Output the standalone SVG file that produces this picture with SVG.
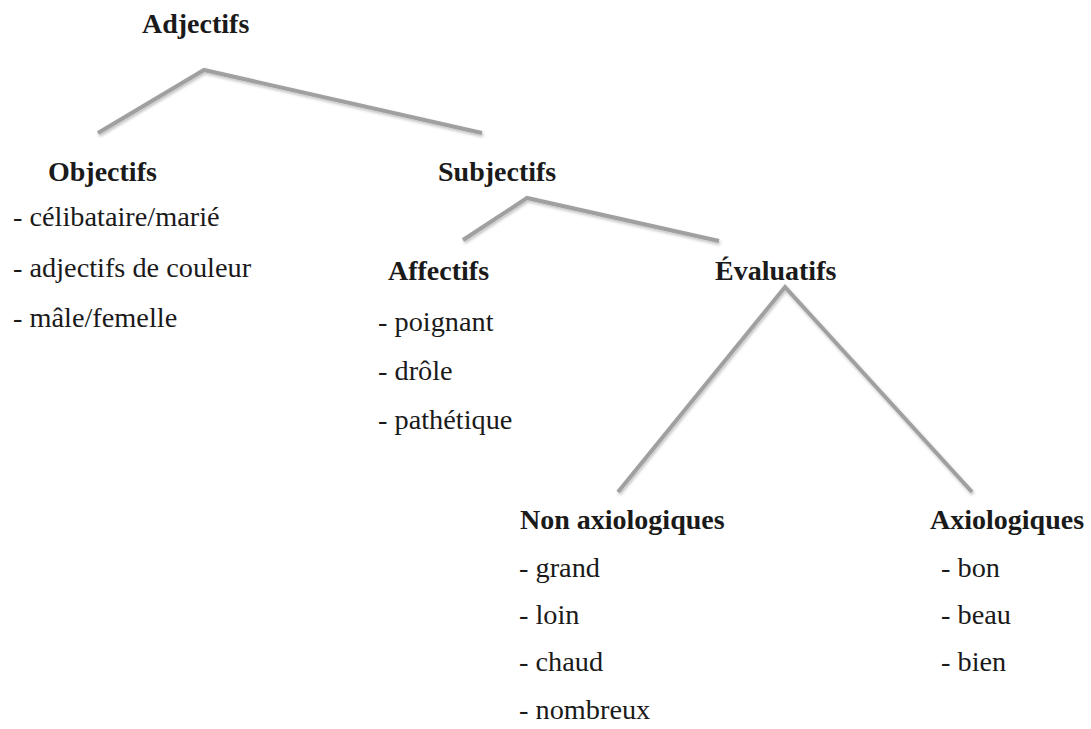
<svg xmlns="http://www.w3.org/2000/svg" width="1091" height="729" viewBox="0 0 1091 729">
<style>
.h{font-family:'Liberation Serif','Times New Roman',Tinos,'DejaVu Serif',serif;font-weight:bold;font-size:28px;fill:#1a1a1a}
.t{font-family:'Liberation Serif','Times New Roman',Tinos,'DejaVu Serif',serif;font-size:28.3px;fill:#1a1a1a}
.c{fill:none;stroke:#a0a0a0;stroke-width:4;stroke-linejoin:miter;filter:url(#sh)}
</style>
<defs>
<filter id="sh" x="-10%" y="-10%" width="120%" height="130%">
<feDropShadow dx="1" dy="2" stdDeviation="1.5" flood-color="#000" flood-opacity="0.25"/>
</filter>
</defs>
<rect width="1091" height="729" fill="#fff"/>
<g id="connectors">
<polyline class="c" points="98,133 204,70 482,133"/>
<polyline class="c" points="463,240 527,198 719,241"/>
<polyline class="c" points="618,492 785,287 972,492"/>
</g>
<g id="adjectifs"><text class="h" x="142" y="33">Adjectifs</text></g>
<g id="objectifs">
<text class="h" x="48" y="181">Objectifs</text>
<text class="t" x="13" y="226">- célibataire/marié</text>
<text class="t" x="13" y="277">- adjectifs de couleur</text>
<text class="t" x="13" y="327">- mâle/femelle</text>
</g>
<g id="subjectifs"><text class="h" x="438" y="181">Subjectifs</text></g>
<g id="affectifs">
<text class="h" x="388" y="280">Affectifs</text>
<text class="t" x="378" y="331">- poignant</text>
<text class="t" x="378" y="380">- drôle</text>
<text class="t" x="378" y="429">- pathétique</text>
</g>
<g id="evaluatifs"><text class="h" x="715" y="280">Évaluatifs</text></g>
<g id="non-axiologiques">
<text class="h" x="520" y="529">Non axiologiques</text>
<text class="t" x="519" y="577">- grand</text>
<text class="t" x="519" y="624">- loin</text>
<text class="t" x="519" y="671">- chaud</text>
<text class="t" x="519" y="719">- nombreux</text>
</g>
<g id="axiologiques">
<text class="h" x="930" y="529">Axiologiques</text>
<text class="t" x="941" y="577">- bon</text>
<text class="t" x="941" y="624">- beau</text>
<text class="t" x="941" y="671">- bien</text>
</g>
</svg>
